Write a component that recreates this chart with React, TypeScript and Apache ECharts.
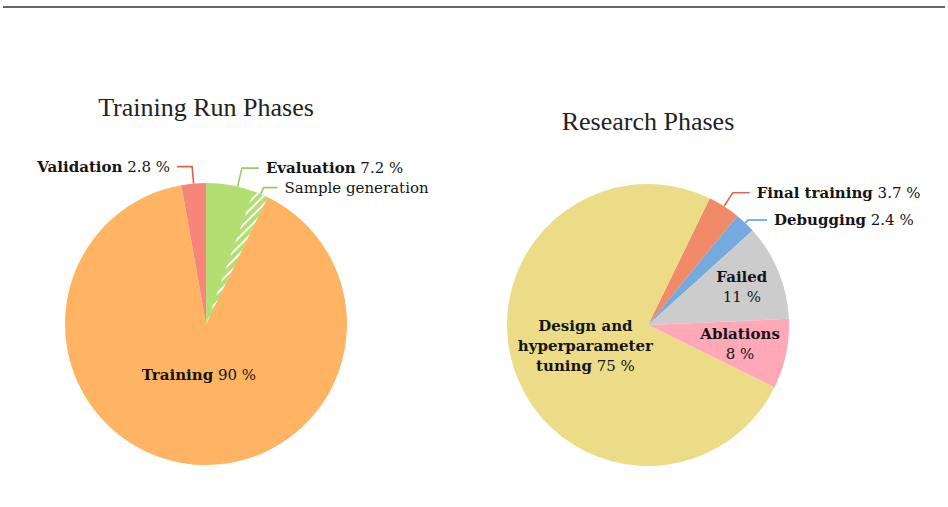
import React, { useEffect, useRef } from 'react';
import * as echarts from 'echarts';

// ---- data ----
const chartTitles = ['Training Run Phases', 'Research Phases'];
const trainingCategories = ['Evaluation', 'Training', 'Validation'];
const trainingValues = [7.2, 90, 2.8];
const sampleGenerationName = 'Sample generation';
const sampleGenerationShare = 1.7; // sub-part of Evaluation (hatched)
const researchCategories = ['Final training', 'Debugging', 'Failed', 'Ablations', 'Design and hyperparameter tuning'];
const researchValues = [3.7, 2.4, 11, 8, 75];

// ---- layout / style ----
const LABEL_FONT = '"DejaVu Serif", serif';
const TITLE_FONT = '"Liberation Serif", "DejaVu Serif", serif';
const TEXT = '#151515';
const FS = 15;
const R = 141;
const leftCenter = [206, 324];
const rightCenter = [648, 325];

const trainingColors = ['#b3df72', '#ffb463', '#f6857a'];
const trainingLineColors = ['#9cc866', null, '#e0604f'];
const researchColors = ['#f08a68', '#74aade', '#cccccc', '#ffa8b8', '#ecdc88'];
const researchLineColors = ['#e0684a', '#5b98d8', null, null, null];

const nameBreaks: Record<string, string> = {
  'Design and hyperparameter tuning': '{b|Design and}\n{b|hyperparameter}\n{b|tuning}',
  Failed: '{b|Failed}\n',
  Ablations: '{b|Ablations}\n',
};

const fmt = (p: any) => {
  const n = nameBreaks[p.name];
  if (n) return n.endsWith('\n') ? `${n}${p.value} %` : `${n} ${p.value} %`;
  return `{b|${p.name}} ${p.value} %`;
};

const richStyle = {
  b: { fontFamily: LABEL_FONT, fontWeight: 'bold', fontSize: FS, color: TEXT, lineHeight: 20 },
};

const baseLabel = {
  fontFamily: LABEL_FONT,
  fontSize: FS,
  color: TEXT,
  lineHeight: 20,
  rich: richStyle,
  formatter: fmt,
};

// radial position of inner labels as fraction of radius (null = outside label)
const trainingLabelRadius = [null, 0.35, null];
const researchLabelRadius = [null, null, 0.69, 0.64, 0.45];

const outsideLines: Record<string, [number, number]> = {
  Evaluation: [19, 17],
  Validation: [17, 15],
  'Final training': [16, 17],
  Debugging: [4, 19],
};

const makeLayout = (center: number[], fr: (number | null)[]) => (params: any) => {
  const f = fr[params.dataIndex];
  if (f == null) return {};
  const r = params.labelRect;
  const lx = r.x + r.width / 2;
  const ly = r.y + r.height / 2;
  const k = (f * R) / (R / 2) - 1;
  return { dx: (lx - center[0]) * k, dy: (ly - center[1]) * k };
};

const buildData = (names: string[], values: number[], colors: string[], lineColors: (string | null)[], fr: (number | null)[]) =>
  names.map((name, i) => {
    const inside = fr[i] != null;
    const ll = outsideLines[name];
    return {
      name,
      value: values[i],
      itemStyle: { color: colors[i] },
      label: inside
        ? { position: 'inside', align: 'center' }
        : { position: 'outside' },
      labelLine: inside
        ? { show: false }
        : { show: true, length: ll[0], length2: ll[1], lineStyle: { color: lineColors[i], width: 1.6 } },
    };
  });

export default function App() {
  const ref = useRef<HTMLDivElement>(null);
  useEffect(() => {
    if (!ref.current) return;
    const chart = echarts.init(ref.current, undefined, { renderer: 'svg' });
    const option: any = {
      animation: false,
      backgroundColor: '#ffffff',
      graphic: [
        { type: 'line', shape: { x1: 3, y1: 7, x2: 945, y2: 7 }, style: { stroke: '#333', lineWidth: 1.4 } },
        {
          type: 'text', x: leftCenter[0], y: 107,
          style: { text: chartTitles[0], font: `26px ${TITLE_FONT}`, fill: '#222', textAlign: 'center', textVerticalAlign: 'middle' },
        },
        {
          type: 'text', x: rightCenter[0], y: 121,
          style: { text: chartTitles[1], font: `26px ${TITLE_FONT}`, fill: '#222', textAlign: 'center', textVerticalAlign: 'middle' },
        },
      ],
      series: [
        {
          type: 'pie',
          center: leftCenter,
          radius: [0, R],
          startAngle: 90,
          clockwise: true,
          avoidLabelOverlap: false,
          itemStyle: { borderWidth: 0 },
          emphasis: { disabled: true },
          label: { ...baseLabel, distanceToLabelLine: 7 },
          labelLayout: makeLayout(leftCenter, trainingLabelRadius),
          data: buildData(trainingCategories, trainingValues, trainingColors, trainingLineColors, trainingLabelRadius),
        },
        {
          type: 'pie',
          center: leftCenter,
          radius: [0, R],
          startAngle: 90,
          clockwise: true,
          silent: true,
          avoidLabelOverlap: false,
          emphasis: { disabled: true },
          itemStyle: { borderWidth: 0 },
          data: [
            { name: 'overlay-a', value: trainingValues[0] - sampleGenerationShare, itemStyle: { color: 'rgba(0,0,0,0)' }, label: { show: false }, labelLine: { show: false } },
            {
              name: sampleGenerationName,
              value: sampleGenerationShare,
              itemStyle: {
                color: trainingColors[0],
                decal: {
                  symbol: 'rect', symbolSize: 1, color: '#ffffff',
                  dashArrayX: [1, 0], dashArrayY: [1.5, 3.5], rotation: -Math.PI / 4,
                },
              },
              label: {
                show: true, position: 'outside', formatter: '{b}',
                fontFamily: LABEL_FONT, fontSize: FS, color: TEXT, distanceToLabelLine: 7,
              },
              labelLine: { show: true, length: 7, length2: 14, lineStyle: { color: trainingLineColors[0], width: 1.6 } },
            },
            { name: 'overlay-b', value: trainingValues[1] + trainingValues[2], itemStyle: { color: 'rgba(0,0,0,0)' }, label: { show: false }, labelLine: { show: false } },
          ],
        },
        {
          type: 'pie',
          center: rightCenter,
          radius: [0, R],
          startAngle: 64,
          clockwise: true,
          avoidLabelOverlap: false,
          itemStyle: { borderWidth: 0 },
          emphasis: { disabled: true },
          label: { ...baseLabel, distanceToLabelLine: 7 },
          labelLayout: makeLayout(rightCenter, researchLabelRadius),
          data: buildData(researchCategories, researchValues, researchColors, researchLineColors, researchLabelRadius),
        },
      ],
    };
    chart.setOption(option);
    return () => chart.dispose();
  }, []);
  return <div ref={ref} style={{ position: 'fixed', left: 0, top: 0, width: 948, height: 507 }} />;
}
